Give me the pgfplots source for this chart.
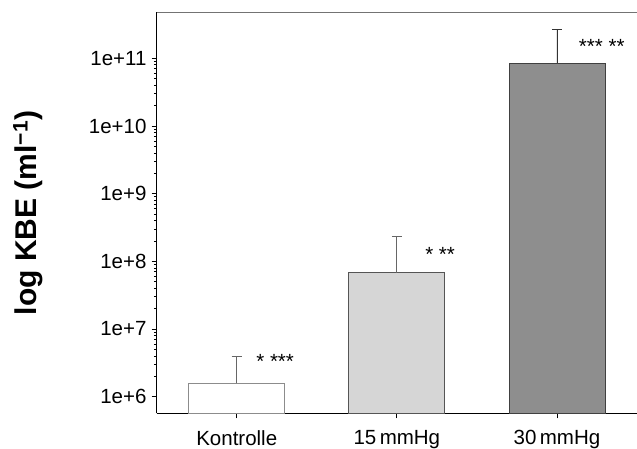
\documentclass[border=0pt]{standalone}
\usepackage{pgfplots}
\pgfplotsset{compat=1.18}
\usepackage{fontspec}
\setmainfont{Liberation Sans}
\definecolor{lightbar}{HTML}{D6D6D6}
\definecolor{darkbar}{HTML}{8E8E8E}
\definecolor{edgegray}{HTML}{555555}
\begin{document}
\begin{tikzpicture}
\begin{axis}[
  name=ax,
  at={(0,0)}, anchor=south west,
  scale only axis,
  width=480.3pt, height=401pt,
  ymode=log,
  log origin y=infty,
  xmin=-0.5, xmax=2.5,
  ymin=5.69e5, ymax=4.79e11,
  axis x line=bottom, axis y line=left,
  axis line style={-, line width=1.2pt, black},
  xtick={0,1,2},
  xticklabels={Kontrolle, 15\,mmHg, 30\,mmHg},
  ytick={1e6,1e7,1e8,1e9,1e10,1e11},
  yticklabels={1e+6,1e+7,1e+8,1e+9,1e+10,1e+11},
  minor ytick={},
  tick align=outside,
  major tick length=5pt,
  tick style={black, line width=0.8pt},
  ticklabel style={font=\fontsize{20.5}{24}\selectfont},
  yticklabel style={inner sep=0pt, xshift=-5pt},
  xticklabel style={inner sep=0pt, yshift=-12pt},
  ylabel={log KBE (ml\textsuperscript{−1})},
  ylabel style={at={(axis description cs:-0.268,0.5)}, anchor=center, font=\bfseries\fontsize{30}{34}\selectfont},
  clip=false,
]
\addplot[ybar, bar width=0.6, fill=white, draw=black!45, line width=0.8pt,
  error bars/.cd, y dir=plus, y explicit,
  error bar style={black!60, line width=0.8pt},
  error mark options={rotate=90, mark size=5pt, black!60, line width=0.8pt}]
  coordinates {(0,1.58e6) +- (0,2.41e6)};
\addplot[ybar, bar width=0.6, fill=lightbar, draw=edgegray, line width=0.8pt,
  error bars/.cd, y dir=plus, y explicit,
  error bar style={black!60, line width=0.8pt},
  error mark options={rotate=90, mark size=5pt, black!60, line width=0.8pt}]
  coordinates {(1,6.79e7) +- (0,1.63e8)};
\addplot[ybar, bar width=0.6, fill=darkbar, draw=black!75, line width=0.8pt,
  error bars/.cd, y dir=plus, y explicit,
  error bar style={black!80, line width=0.8pt},
  error mark options={rotate=90, mark size=5pt, black!80, line width=0.8pt}]
  coordinates {(2,8.44e10) +- (0,1.866e11)};
\node[font=\fontsize{20.5}{24}\selectfont] at (axis cs:0.24,3.3e6) {* ***};
\node[font=\fontsize{20.5}{24}\selectfont] at (axis cs:1.27,1.28e8) {* **};
\node[font=\fontsize{20.5}{24}\selectfont] at (axis cs:2.28,1.52e11) {*** **};
\draw[black!55, line width=0.8pt] (rel axis cs:0,1) -- (rel axis cs:1,1);
\end{axis}
\pgfresetboundingbox
\useasboundingbox (ax.south west) ++(-156.7pt,-35.7pt) rectangle ++(637pt,449pt);
\end{tikzpicture}
\end{document}
